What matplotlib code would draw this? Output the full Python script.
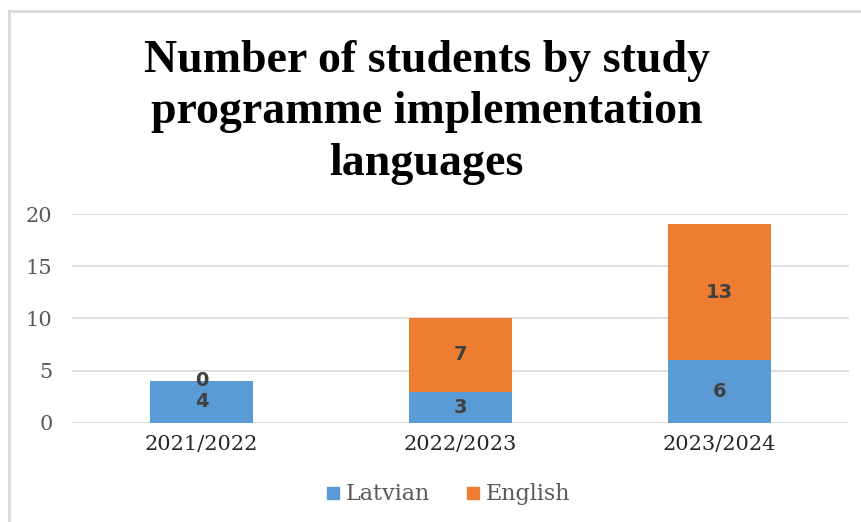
import numpy as np
import matplotlib.pyplot as plt
from matplotlib.lines import Line2D

years = ["2021/2022", "2022/2023", "2023/2024"]
latvian = [4, 3, 6]
english = [0, 7, 13]
series_names = ["Latvian", "English"]
clrs = ["#5B9BD5", "#ED7D31"]

fig = plt.figure(figsize=(8.62, 5.22), dpi=100)
ax = fig.add_axes([0.0835, 0.19, 0.9015, 0.40])

x = np.arange(len(years))
b1 = ax.bar(x, latvian, width=0.4, color=clrs[0], label=series_names[0], zorder=3)
b2 = ax.bar(x, english, width=0.4, bottom=latvian, color=clrs[1], label=series_names[1], zorder=3)

# value labels in the middle of each segment
lab_font = dict(fontsize=14, fontweight="bold", color="#404040", family="DejaVu Sans",
                ha="center", va="center", zorder=4)
for i in range(len(years)):
    ax.text(x[i], latvian[i] / 2, str(latvian[i]), **lab_font)
    if english[i] > 0:
        ax.text(x[i], latvian[i] + english[i] / 2, str(english[i]), **lab_font)
    else:
        ax.text(x[i], latvian[i] + 0.1, str(english[i]), **lab_font)

ax.set_xlim(-0.5, 2.5)
ax.set_ylim(0, 20)
ax.set_yticks([0, 5, 10, 15, 20])
ax.set_xticks(x)
ax.set_xticklabels(years)
ax.yaxis.grid(True, color="#D9D9D9", linewidth=1.2, zorder=0)
for s in ax.spines.values():
    s.set_visible(False)
ax.tick_params(length=0)
ax.tick_params(axis="y", labelsize=15, labelcolor="#595959", pad=14)
ax.tick_params(axis="x", labelsize=15, labelcolor="#262626", pad=9)
for t in ax.get_xticklabels() + ax.get_yticklabels():
    t.set_family("DejaVu Serif")

fig.text(0.495, 0.785, "Number of students by study\nprogramme implementation\nlanguages",
         ha="center", va="center", multialignment="center",
         fontsize=33, fontweight="bold", family="Liberation Serif", linespacing=1.3)

handles = [Line2D([], [], marker="s", linestyle="", markersize=8, color=c) for c in clrs]
leg = fig.legend(handles, series_names, loc="center", bbox_to_anchor=(0.52, 0.053), ncol=2,
                 frameon=False, handlelength=0.6, handletextpad=0.3, columnspacing=1.6,
                 prop={"family": "DejaVu Serif", "size": 16})
for t in leg.get_texts():
    t.set_color("#595959")

# outer frame, top and left edges
fig.add_artist(Line2D([0.011, 1.0], [1 - 11 / 522, 1 - 11 / 522], color="#D9D9D9", linewidth=2))
fig.add_artist(Line2D([0.011, 0.011], [1 - 11 / 522, 0.0], color="#D9D9D9", linewidth=2))

plt.savefig("out.png", dpi=100)
